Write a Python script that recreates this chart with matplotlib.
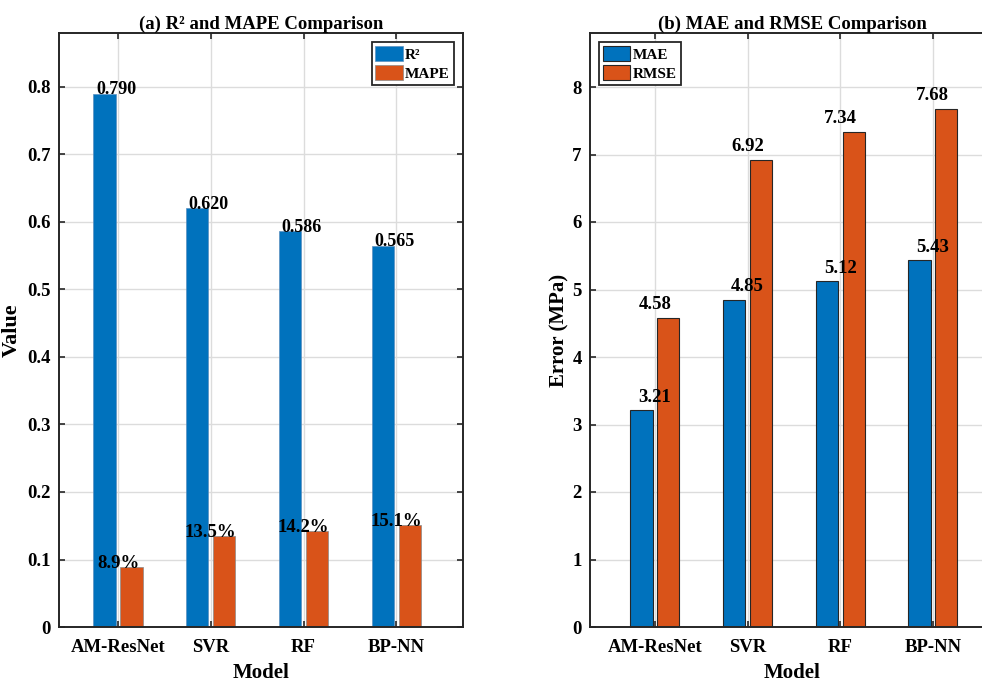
import numpy as np
import matplotlib
matplotlib.use('Agg')
import matplotlib.pyplot as plt

plt.rcParams['font.family'] = ['Liberation Serif', 'DejaVu Serif']
plt.rcParams['font.weight'] = 'bold'

# data
models = ['AM-ResNet', 'SVR', 'RF', 'BP-NN']
r2 = [0.790, 0.620, 0.586, 0.565]
mape = [8.9, 13.5, 14.2, 15.1]   # percent
mae = [3.21, 4.85, 5.12, 5.43]
rmse = [4.58, 6.92, 7.34, 7.68]

c_blue = '#0072BD'
c_orange = '#D95319'
edge = '#262626'


def style_axes(ax, ylim, yticks, ylabels):
    ax.set_ylim(ylim)
    ax.set_yticks(yticks)
    ax.set_yticklabels(ylabels)
    ax.set_xticks(np.arange(1, len(models) + 1))
    ax.set_xticklabels(models)
    ax.tick_params(direction='in', top=True, right=True, length=4, width=1.2,
                   labelsize=13.5, color=edge, pad=6)
    ax.tick_params(axis='x', pad=9)
    for s in ax.spines.values():
        s.set_linewidth(1.4)
        s.set_color(edge)
    ax.grid(True, color='#dcdcdc', linewidth=1.0)
    ax.set_axisbelow(True)
    ax.set_xlabel('Model', fontsize=15, fontweight='bold', labelpad=5)


def add_legend(ax, loc):
    leg = ax.legend(loc=loc, fontsize=11, fancybox=False, framealpha=1,
                    edgecolor=edge, handlelength=1.8, handleheight=1.1,
                    handletextpad=0.15, borderpad=0.25, labelspacing=0.25,
                    borderaxespad=0.6)
    leg.get_frame().set_linewidth(1.3)
    return leg


fig = plt.figure(figsize=(9.82, 6.82), dpi=100)
ax1 = fig.add_axes([59 / 982, 1 - 627 / 682, 404 / 982, 594 / 682])
ax2 = fig.add_axes([590 / 982, 1 - 627 / 682, 404 / 982, 594 / 682])

x = np.arange(1, len(models) + 1)
w = 0.24
off = 0.145

# (a) R2 and MAPE
ax1.bar(x - off, r2, w, color=c_blue, edgecolor='#5a8fbf', linewidth=0.5, label='R²')
ax1.bar(x + off, np.array(mape) / 100, w, color=c_orange, edgecolor='#8a8a8a',
        linewidth=0.5, label='MAPE')
for xi, v in zip(x, r2):
    ax1.text(xi - 0.02, v - 0.007, f'{v:.3f}', ha='center', va='bottom', fontsize=13)
for xi, v in zip(x, mape):
    ax1.text(xi, v / 100 - 0.007, f'{v:.1f}%', ha='center', va='bottom', fontsize=13.5)
ax1.set_xlim(0.363, 4.72)
style_axes(ax1, (0, 0.88), np.arange(0, 0.81, 0.1),
           ['0'] + [f'{t:.1f}' for t in np.arange(0.1, 0.81, 0.1)])
ax1.set_ylabel('Value', fontsize=16, fontweight='bold', labelpad=4)
ax1.set_title('(a) R² and MAPE Comparison', fontsize=13.5, fontweight='bold', pad=3)
add_legend(ax1, 'upper right')

# (b) MAE and RMSE
ax2.bar(x - off, mae, w, color=c_blue, edgecolor=edge, linewidth=0.8, label='MAE')
ax2.bar(x + off, rmse, w, color=c_orange, edgecolor=edge, linewidth=0.8, label='RMSE')
for xi, v in zip(x, mae):
    ax2.text(xi, v + 0.07, f'{v:.2f}', ha='center', va='bottom', fontsize=13.5)
for xi, v in zip(x, rmse):
    ax2.text(xi, v + 0.07, f'{v:.2f}', ha='center', va='bottom', fontsize=13.5)
ax2.set_xlim(0.30, 4.66)
style_axes(ax2, (0, 8.8), np.arange(0, 9), [str(t) for t in range(9)])
ax2.set_ylabel('Error (MPa)', fontsize=15, fontweight='bold', labelpad=2)
ax2.set_title('(b) MAE and RMSE Comparison', fontsize=13.5, fontweight='bold', pad=3)
add_legend(ax2, 'upper left')

fig.savefig('out.png', dpi=100)
